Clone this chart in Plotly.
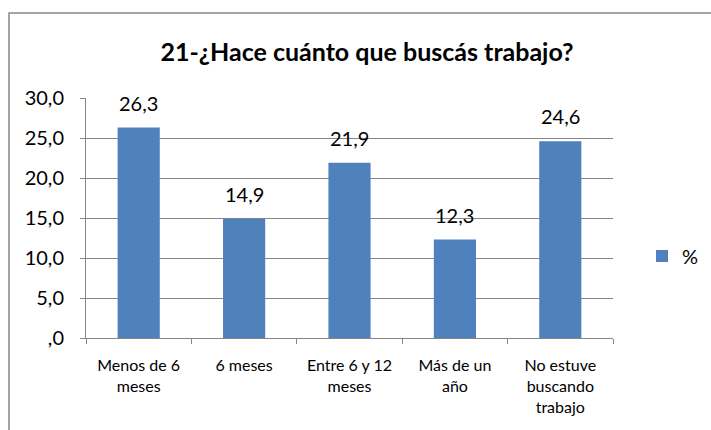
import plotly.graph_objects as go

categories = ["Menos de 6<br>meses", "6 meses", "Entre 6 y 12<br>meses", "Más de un<br>año", "No estuve<br>buscando<br>trabajo"]
values = [26.3, 14.9, 21.9, 12.3, 24.6]
value_labels = ["26,3", "14,9", "21,9", "12,3", "24,6"]
y_tickvals = [0, 5, 10, 15, 20, 25, 30]
y_ticktext = [",0", "5,0", "10,0", "15,0", "20,0", "25,0", "30,0"]
series_name = "%"
title_text = "21-¿Hace cuánto que buscás trabajo?"

FONT = "Lato"
GRAY = "#868686"
BLUE = "#4F81BD"

fig = go.Figure()
fig.add_trace(go.Bar(
    x=categories, y=values, name=series_name,
    marker=dict(color=BLUE, line=dict(width=0)),
    width=0.4, showlegend=True,
))

for c, v, t in zip(categories, values, value_labels):
    fig.add_annotation(x=c, y=v, text=t, showarrow=False, yanchor="bottom",
                       yshift=11, font=dict(family=FONT, size=20, color="#000000"))

W, H = 711, 430
L, R, T, B = 86, 98, 98, 92
pw, ph = W - L - R, H - T - B

def px(x):
    return (x - L) / pw

def py(y):
    return (H - B - y) / ph

fig.add_shape(type="rect", xref="paper", yref="paper",
              x0=px(9), x1=px(760), y0=py(13), y1=py(480),
              line=dict(color=GRAY, width=1.5), fillcolor="rgba(0,0,0,0)", layer="below")

fig.update_layout(
    width=W, height=H,
    margin=dict(l=L, r=R, t=T, b=B, autoexpand=False),
    paper_bgcolor="white", plot_bgcolor="white",
    font=dict(family=FONT, color="#000000"),
    title=dict(text="<b>" + title_text + "</b>", xref="container", x=367 / W, xanchor="center",
               yref="container", y=1 - 52 / H, yanchor="middle",
               font=dict(family=FONT, size=25, color="#000000")),
    legend=dict(x=px(642), y=py(256), xanchor="left", yanchor="middle",
                font=dict(family=FONT, size=20, color="#000000"),
                bgcolor="rgba(0,0,0,0)", itemwidth=30),
    bargap=0.6,
)
fig.update_yaxes(range=[0, 30], tickvals=y_tickvals, ticktext=y_ticktext,
                 showgrid=True, gridcolor=GRAY, gridwidth=1,
                 showline=True, linecolor=GRAY, linewidth=1,
                 ticks="outside", ticklen=5, tickcolor=GRAY,
                 ticklabelstandoff=12, zeroline=False, automargin=False,
                 tickfont=dict(family=FONT, size=20, color="#000000"))
fig.update_xaxes(showline=True, linecolor=GRAY, linewidth=1,
                 ticks="outside", ticklen=5, tickcolor=GRAY, tickson="boundaries",
                 showgrid=False, ticklabelstandoff=13, automargin=False,
                 tickfont=dict(family=FONT, size=16, color="#000000"))

fig.write_html("out.html", config={"displayModeBar": False},
               post_script="document.body.style.margin='0';document.body.style.overflow='hidden';")
